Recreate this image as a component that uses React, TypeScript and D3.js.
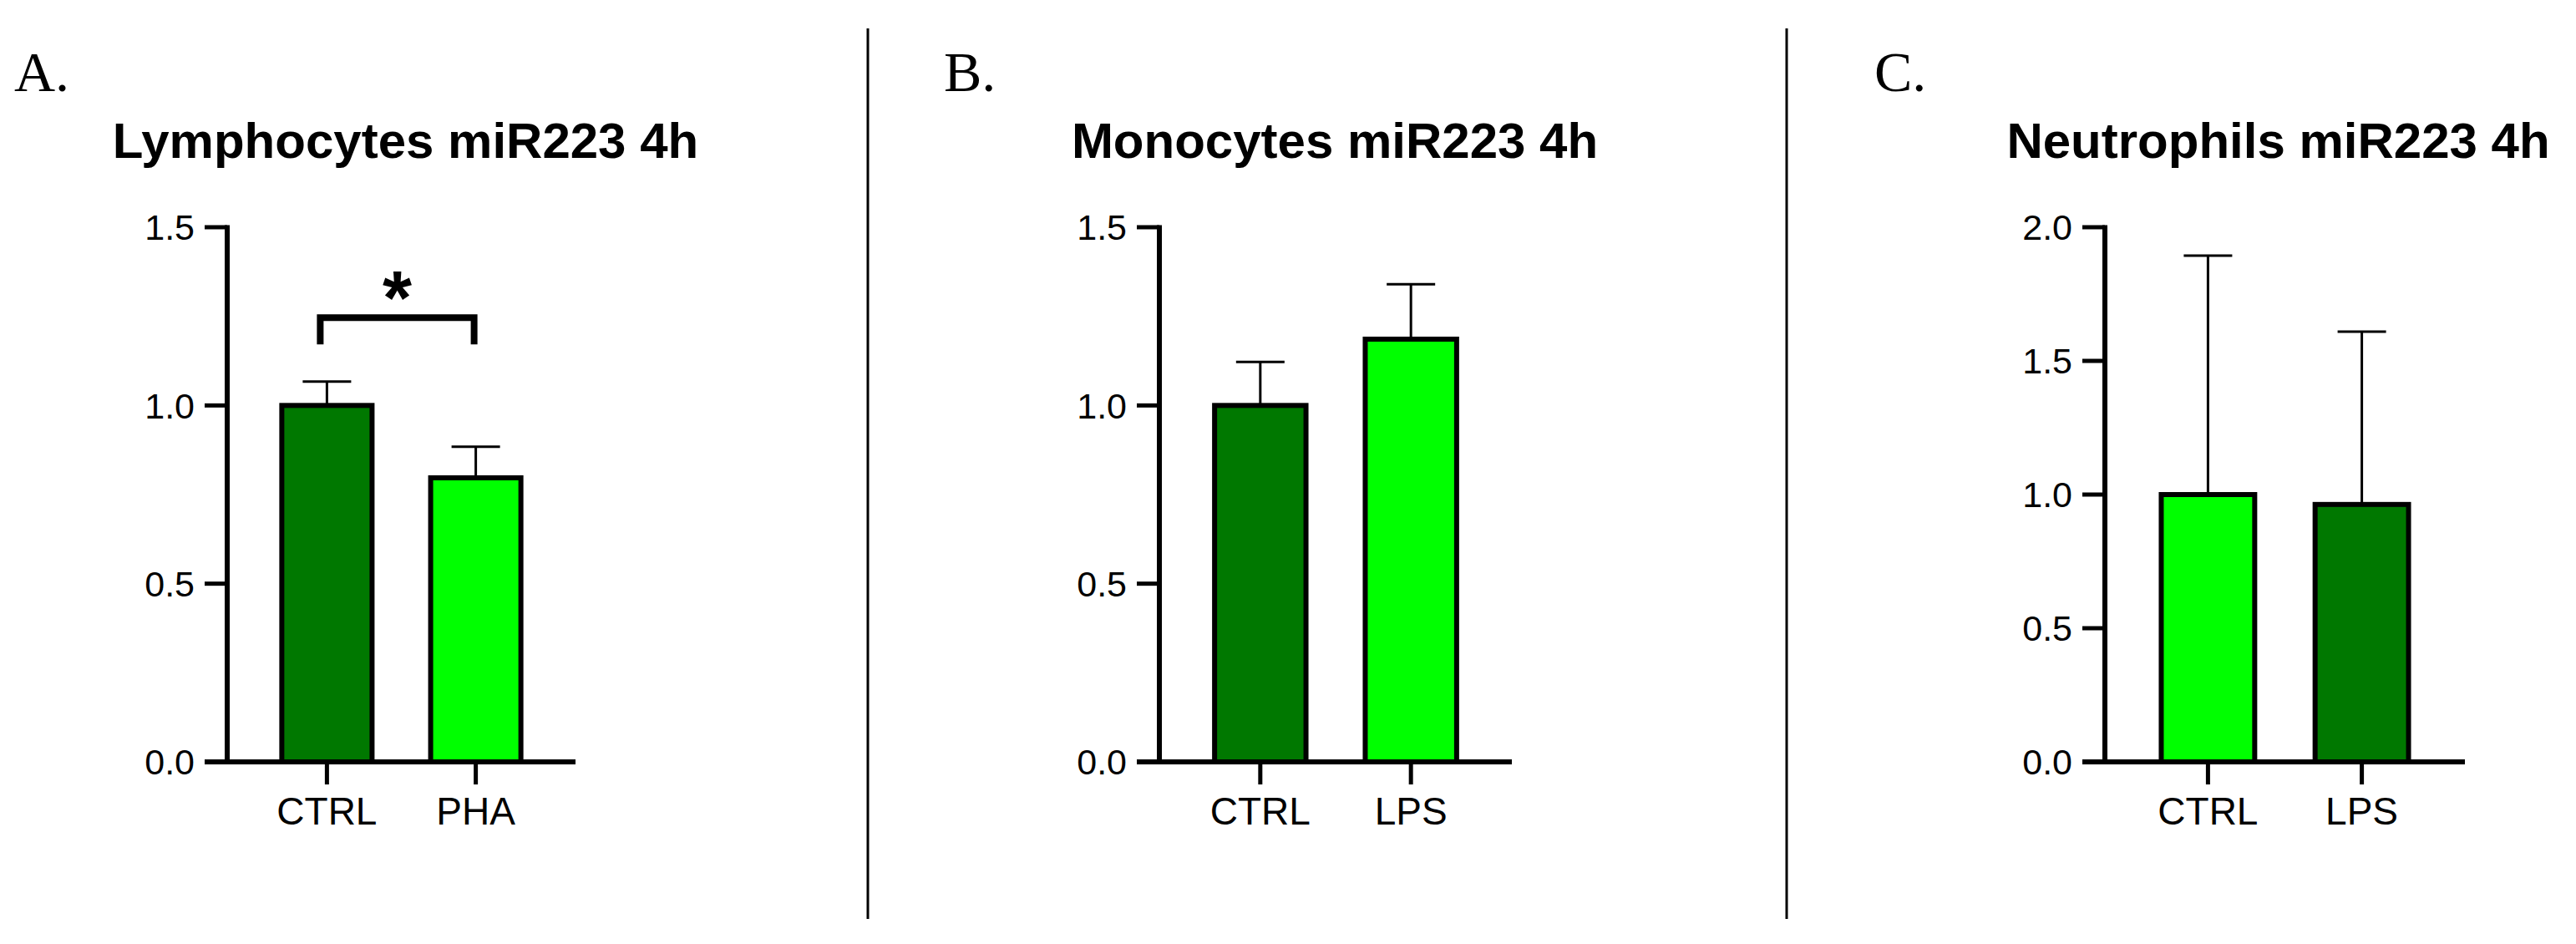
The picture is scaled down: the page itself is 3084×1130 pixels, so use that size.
import React from "react";
import * as d3 from "d3";

// ---------- data ----------
const panelLetters = ["A.", "B.", "C."];
const titles = ["Lymphocytes miR223 4h", "Monocytes miR223 4h", "Neutrophils miR223 4h"];

const categoriesA = ["CTRL", "PHA"];
const meansA = [1.0, 0.797];
const upperA = [1.067, 0.884];
const colorsA = ["#007800", "#00ff00"];

const categoriesB = ["CTRL", "LPS"];
const meansB = [1.0, 1.186];
const upperB = [1.122, 1.34];
const colorsB = ["#007800", "#00ff00"];

const categoriesC = ["CTRL", "LPS"];
const meansC = [1.0, 0.963];
const upperC = [1.894, 1.609];
const colorsC = ["#00ff00", "#007800"];

const ticksAB = [0, 0.5, 1.0, 1.5];
const ticksC = [0, 0.5, 1.0, 1.5, 2.0];

const sigA = { from: "CTRL", to: "PHA", level: 1.246, legEnd: 1.171, label: "*" };

// ---------- layout ----------
const W = 3084;
const H = 1130;
const Y_TOP = 272;
const Y_BOTTOM = 912;
const layouts = [
  { axisX: 272, right: 689, titleDx: 5, letterX: 17 },
  { axisX: 1388, right: 1810, titleDx: -1, letterX: 1130 },
  { axisX: 2520, right: 2951, titleDx: -8, letterX: 2244 },
];
const dividers = [1039, 2139];

const SANS = "'Liberation Sans', Arial, Helvetica, sans-serif";
const SERIF = "'Liberation Serif', 'Times New Roman', serif";
const fmt = d3.format(".1f");

function Panel({ idx, categories, means, upper, colors, ticks, sig }) {
  const L = layouts[idx];
  const x = d3
    .scaleBand()
    .domain(categories)
    .range([L.axisX, L.right])
    .paddingInner(0.36)
    .paddingOuter(0.35);
  const y = d3
    .scaleLinear()
    .domain([0, ticks[ticks.length - 1]])
    .range([Y_BOTTOM, Y_TOP]);
  const bw = x.bandwidth();
  const tickLen = 27;
  const cx = (c) => x(c) + bw / 2;

  return (
    <g>
      <text x={L.letterX} y={109} fontFamily={SERIF} fontSize={68} fill="#000">
        {panelLetters[idx]}
      </text>
      <text
        x={(L.axisX + L.right) / 2 + L.titleDx}
        y={189}
        textAnchor="middle"
        fontFamily={SANS}
        fontWeight="bold"
        fontSize={60}
        fill="#000"
      >
        {titles[idx]}
      </text>

      {/* bars */}
      {categories.map((c, i) => (
        <g key={c}>
          <line
            x1={cx(c)}
            x2={cx(c)}
            y1={y(means[i])}
            y2={y(upper[i])}
            stroke="#000"
            strokeWidth={3}
          />
          <line
            x1={cx(c) - 29}
            x2={cx(c) + 29}
            y1={y(upper[i])}
            y2={y(upper[i])}
            stroke="#000"
            strokeWidth={3}
          />
          <rect
            x={x(c) + 3}
            y={y(means[i])}
            width={bw - 6}
            height={Y_BOTTOM - y(means[i])}
            fill={colors[i]}
            stroke="#000"
            strokeWidth={6}
          />
        </g>
      ))}

      {/* y axis */}
      <line x1={L.axisX} x2={L.axisX} y1={Y_TOP - 2.5} y2={Y_BOTTOM} stroke="#000" strokeWidth={6} />
      {ticks.map((t) => (
        <g key={t}>
          <line
            x1={L.axisX - tickLen}
            x2={L.axisX}
            y1={y(t)}
            y2={y(t)}
            stroke="#000"
            strokeWidth={5}
          />
          <text
            x={L.axisX - tickLen - 12}
            y={y(t)}
            dy="0.36em"
            textAnchor="end"
            fontFamily={SANS}
            fontSize={43}
            fill="#000"
          >
            {fmt(t)}
          </text>
        </g>
      ))}

      {/* x axis */}
      <line x1={L.axisX - tickLen} x2={L.right} y1={Y_BOTTOM} y2={Y_BOTTOM} stroke="#000" strokeWidth={6} />
      {categories.map((c) => (
        <g key={"t" + c}>
          <line x1={cx(c)} x2={cx(c)} y1={Y_BOTTOM} y2={Y_BOTTOM + 27} stroke="#000" strokeWidth={5} />
          <text x={cx(c)} y={987} textAnchor="middle" fontFamily={SANS} fontSize={46} fill="#000">
            {c}
          </text>
        </g>
      ))}

      {/* significance */}
      {sig && (
        <g>
          <path
            d={`M${cx(sig.from) - 8},${y(sig.legEnd)}V${y(sig.level)}H${cx(sig.to) - 2}V${y(sig.legEnd)}`}
            fill="none"
            stroke="#000"
            strokeWidth={8}
            strokeLinejoin="miter"
          />
          <text
            x={(cx(sig.from) + cx(sig.to)) / 2 - 5}
            y={y(sig.level) + 8}
            textAnchor="middle"
            fontFamily={SANS}
            fontWeight="bold"
            fontSize={90}
            fill="#000"
          >
            {sig.label}
          </text>
        </g>
      )}
    </g>
  );
}

export default function App() {
  return (
    <svg
      width={W}
      height={H}
      viewBox={`0 0 ${W} ${H}`}
      style={{ position: "absolute", left: 0, top: 0, background: "#fff" }}
    >
      <rect x={0} y={0} width={W} height={H} fill="#fff" />
      {dividers.map((d) => (
        <line key={d} x1={d} x2={d} y1={34} y2={1100} stroke="#000" strokeWidth={3} />
      ))}
      <Panel idx={0} categories={categoriesA} means={meansA} upper={upperA} colors={colorsA} ticks={ticksAB} sig={sigA} />
      <Panel idx={1} categories={categoriesB} means={meansB} upper={upperB} colors={colorsB} ticks={ticksAB} sig={null} />
      <Panel idx={2} categories={categoriesC} means={meansC} upper={upperC} colors={colorsC} ticks={ticksC} sig={null} />
    </svg>
  );
}
